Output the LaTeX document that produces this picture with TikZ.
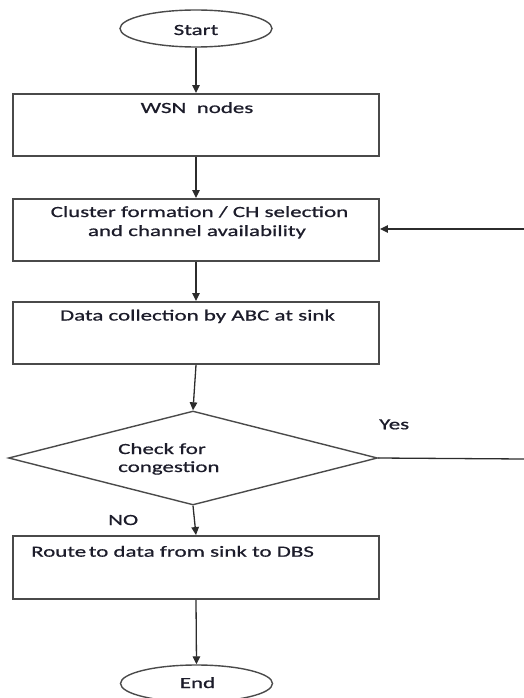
\documentclass[tikz,border=0pt]{standalone}
\usepackage{fontspec}
\setmainfont{Carlito}[FakeStretch=1.48,FakeBold=0.8]
\usetikzlibrary{shapes.geometric,arrows.meta}
\definecolor{boxline}{HTML}{4A4A4A}
\definecolor{arrline}{HTML}{2C2C2C}
\definecolor{txt}{HTML}{1C1C2A}
\begin{document}
\begin{tikzpicture}[x=1pt,y=-1pt,
  box/.style={draw=boxline,line width=1.9pt,minimum width=366pt,minimum height=62pt,inner sep=0pt},
  term/.style={ellipse,draw=boxline,line width=1.4pt,minimum width=152pt,minimum height=37pt,inner sep=0pt},
  dec/.style={diamond,draw=boxline,line width=1.4pt,minimum width=369pt,minimum height=94pt,inner sep=0pt},
  flow/.style={draw=arrline,line width=1.3pt,-{Triangle[length=8pt,width=7.5pt]}},
  plain/.style={draw=arrline,line width=1.3pt},
  txtn/.style={inner sep=0pt,text=txt,font=\fontsize{15.5}{19}\selectfont},
]
\useasboundingbox (0,0) rectangle (524,698);
\begin{scope}
\clip (0,0) rectangle (524,698);
% shapes
\node[term] (start) at (196,28.5) {};
\node[box] (wsn) at (196,125) {};
\node[box] (clus) at (196,230) {};
\node[box] (data) at (196,333) {};
\node[dec] (dec) at (193,458) {};
\node[box,minimum height=63pt] (route) at (196,567.5) {};
\node[term] (end) at (196.5,683.5) {};
% texts
\node[txtn,anchor=base] (startT) at (196,35) {Start};
\node[txtn,anchor=base] (wsnT) at (197,113) {WSN\ \ nodes};
\node[txtn,anchor=base] (clusT1) at (199.5,217) {Cluster formation / CH selection};
\node[txtn,anchor=base] (clusT2) at (197,236) {and channel availability};
\node[txtn,anchor=base] (dataT) at (197.5,320.5) {Data collection by ABC at sink};
\node[txtn,anchor=base west] (decT1) at (118,454) {Check for};
\node[txtn,anchor=base west] (decT2) at (118,472) {congestion};
\node[txtn,anchor=base west] (yesT) at (379,429.3) {Yes};
\node[txtn,anchor=base west] (noT) at (108,525) {NO};
\node[txtn,anchor=base west] (routeT) at (31,556.7) {Route\,to data from sink to DBS};
\node[txtn,anchor=base] (endT) at (197.5,688) {End};
% connectors
\coordinate (yesEnd) at (524,459);
\coordinate (loopIn) at (524,229);
\draw[flow] (start.south) -- (wsn.north);
\draw[flow] (wsn.south) -- (clus.north);
\draw[flow] (clus.south) -- (data.north);
\draw[flow] (data.south) -- (dec.north);
\draw[flow] (dec.south) -- (route.north);
\draw[flow] (route.south) -- (end.north);
\draw[plain] (dec.east) -- (yesEnd);
\draw[flow] (loopIn) -- (clus.east |- loopIn);
\end{scope}
\end{tikzpicture}
\end{document}
